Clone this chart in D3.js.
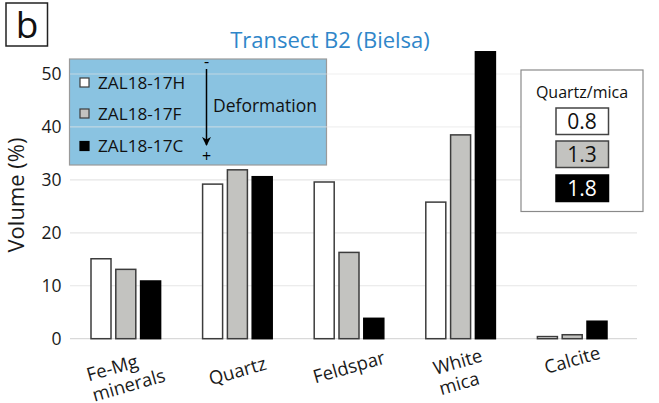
<!DOCTYPE html>
<html>
<head>
<meta charset="utf-8">
<script src="https://d3js.org/d3.v7.min.js"></script>
<style>
  body { margin: 0; background: #fff; }
  svg { display: block; font-family: "Open Sans", sans-serif; }
</style>
</head>
<body>
<svg id="chart" width="659" height="403"></svg>
<script>
// minerals on the x axis
var categories = ["Fe-Mg\nminerals", "Quartz", "Feldspar", "White\nmica", "Calcite"];
// samples, from least to most deformed
var samples = ["ZAL18-17H", "ZAL18-17F", "ZAL18-17C"];
var ratios = ["0.8", "1.3", "1.8"];
var valuesH = [15.1, 29.2, 29.6, 25.8, 0.4];
var valuesF = [13.1, 31.9, 16.3, 38.5, 0.75];
var valuesC = [10.9, 30.6, 3.85, 54.2, 3.3];
var yTicks = [0, 10, 20, 30, 40, 50];

var fills = ["#ffffff", "#c3c3c0", "#000000"];
var strokes = ["#3c3c3c", "#3c3c3c", "#000000"];

var svg = d3.select("#chart");

var x = d3.scaleBand().domain(categories).range([70, 628]);
var y = d3.scaleLinear().domain([0, 50]).range([338.7, 74]);
var bandW = 20, gap = 4.8;
// label centre heights differ a little per category in the original
var labelY = [375, 371, 367, 372, 360];

var table = [valuesH, valuesF, valuesC];

// legend box drawn first so gridlines cross it
svg.append("rect")
  .attr("x", 69.5).attr("y", 59)
  .attr("width", 257).attr("height", 106)
  .attr("fill", "#8ac3e1")
  .attr("stroke", "#9a9a9a")
  .attr("stroke-width", 1.2);

// gridlines
svg.append("g").selectAll("line")
  .data(yTicks)
  .enter().append("line")
  .attr("x1", 70).attr("x2", 637)
  .attr("y1", function(d) { return y(d); })
  .attr("y2", function(d) { return y(d); })
  .attr("stroke", function(d) { return d === 0 ? "#d9d9d9" : "#e6e6e6"; })
  .attr("stroke-opacity", function(d) { return d >= 40 ? 0.6 : 1; })
  .attr("stroke-width", 1.2);

// y tick labels
svg.append("g").selectAll("text")
  .data(yTicks)
  .enter().append("text")
  .attr("x", 61.5)
  .attr("y", function(d) { return y(d); })
  .attr("dy", "0.35em")
  .attr("text-anchor", "end")
  .attr("font-size", "17.5px")
  .attr("fill", "#1a1a1a")
  .text(function(d) { return d; });

// y axis label
svg.append("text")
  .attr("transform", "translate(24,195) rotate(-90)")
  .attr("text-anchor", "middle")
  .attr("font-size", "22px")
  .attr("fill", "#1a1a1a")
  .text("Volume (%)");

// bars
table.forEach(function(vals, s) {
  svg.append("g").selectAll("rect")
    .data(vals)
    .enter().append("rect")
    .attr("x", function(d, i) {
      return x(categories[i]) + x.bandwidth() / 2 + (s - 1) * (bandW + gap) - bandW / 2;
    })
    .attr("y", function(d) { return y(d); })
    .attr("width", bandW)
    .attr("height", function(d) { return y(0) - y(d); })
    .attr("fill", fills[s])
    .attr("stroke", strokes[s])
    .attr("stroke-width", 1.5);
});

// x labels, tilted, lines left aligned inside the block
var xl = svg.append("g").selectAll("text")
  .data(categories)
  .enter().append("text")
  .attr("transform", function(d, i) {
    return "translate(" + (x(d) + x.bandwidth() / 2) + "," + labelY[i] + ") rotate(-16)";
  })
  .attr("font-size", "18.5px")
  .attr("fill", "#1a1a1a");
xl.each(function(d) {
  var lines = d.split("\n");
  var t = d3.select(this);
  var spans = lines.map(function(l, k) {
    return t.append("tspan")
      .attr("y", (k - (lines.length - 1) / 2) * 21)
      .attr("dy", "0.35em")
      .text(l);
  });
  var w = d3.max(spans, function(sp) { return sp.node().getComputedTextLength(); });
  spans.forEach(function(sp) { sp.attr("x", -w / 2); });
});

// title
svg.append("text")
  .attr("x", 330).attr("y", 48)
  .attr("text-anchor", "middle")
  .attr("font-size", "22px")
  .attr("fill", "#2f86c9")
  .text("Transect B2 (Bielsa)");

// panel letter
svg.append("rect")
  .attr("x", 6).attr("y", 3)
  .attr("width", 41.5).attr("height", 43)
  .attr("fill", "#fff")
  .attr("stroke", "#222")
  .attr("stroke-width", 1.5);
svg.append("text")
  .attr("x", 27).attr("y", 38)
  .attr("text-anchor", "middle")
  .attr("font-size", "37px")
  .attr("fill", "#111")
  .text("b");

// sample legend
var legY = [82.5, 113.5, 146];
samples.forEach(function(name, s) {
  svg.append("rect")
    .attr("x", 80).attr("y", legY[s] - 4.5)
    .attr("width", 9).attr("height", 9)
    .attr("fill", fills[s])
    .attr("stroke", strokes[s])
    .attr("stroke-width", 1.2);
  svg.append("text")
    .attr("x", 98).attr("y", legY[s])
    .attr("dy", "0.35em")
    .attr("font-size", "17.2px")
    .attr("fill", "#111")
    .text(name);
});

// deformation arrow
svg.append("defs").append("marker")
  .attr("id", "arrow")
  .attr("viewBox", "0 0 10 10")
  .attr("refX", 9).attr("refY", 5)
  .attr("markerWidth", 6).attr("markerHeight", 8)
  .attr("orient", "auto")
  .append("path")
  .attr("d", "M0,0 L10,5 L0,10 L3,5 Z")
  .attr("fill", "#000");
svg.append("line")
  .attr("x1", 206.5).attr("x2", 206.5)
  .attr("y1", 69).attr("y2", 145)
  .attr("stroke", "#000")
  .attr("stroke-width", 1.5)
  .attr("marker-end", "url(#arrow)");
svg.append("text")
  .attr("x", 206.5).attr("y", 67)
  .attr("text-anchor", "middle")
  .attr("font-size", "16px")
  .text("-");
svg.append("text")
  .attr("x", 206.5).attr("y", 162)
  .attr("text-anchor", "middle")
  .attr("font-size", "16px")
  .text("+");
svg.append("text")
  .attr("x", 213).attr("y", 106)
  .attr("dy", "0.35em")
  .attr("font-size", "17.5px")
  .attr("fill", "#111")
  .text("Deformation");

// quartz/mica legend
svg.append("rect")
  .attr("x", 521).attr("y", 70)
  .attr("width", 122).attr("height", 141.5)
  .attr("fill", "#fff")
  .attr("stroke", "#8a8a8a")
  .attr("stroke-width", 1.2);
svg.append("text")
  .attr("x", 582).attr("y", 92)
  .attr("dy", "0.35em")
  .attr("text-anchor", "middle")
  .attr("font-size", "16px")
  .attr("fill", "#111")
  .text("Quartz/mica");
var boxY = [108, 141, 175];
ratios.forEach(function(r, s) {
  svg.append("rect")
    .attr("x", 556).attr("y", boxY[s])
    .attr("width", 52.5).attr("height", 26.5)
    .attr("fill", fills[s])
    .attr("stroke", s === 2 ? "#000" : "#444")
    .attr("stroke-width", 1.5);
  svg.append("text")
    .attr("x", 582).attr("y", boxY[s] + 13.5)
    .attr("dy", "0.35em")
    .attr("text-anchor", "middle")
    .attr("font-size", "21px")
    .attr("fill", s === 2 ? "#fff" : "#111")
    .text(r);
});
</script>
</body>
</html>
